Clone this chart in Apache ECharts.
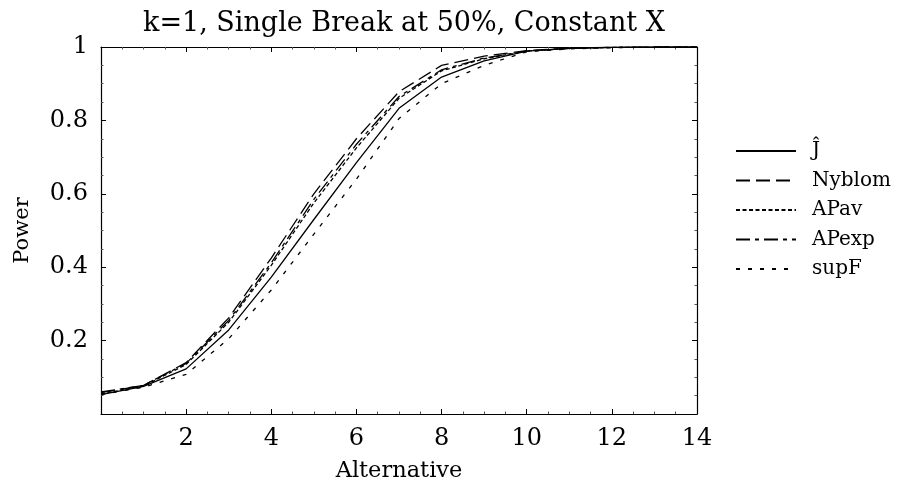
<!DOCTYPE html>
<html>
<head>
<meta charset="utf-8">
<title>Power curves</title>
<script src="https://cdn.jsdelivr.net/npm/echarts@6/dist/echarts.min.js"></script>
<style>
  html, body { margin: 0; padding: 0; background: #fff; }
  #chart { width: 900px; height: 494px; }
</style>
</head>
<body>
<div id="chart"></div>
<script>
// Alternative values (break size) at which power was simulated
const alternatives = [0, 1, 2, 3, 4, 5, 6, 7, 8, 9, 10, 11, 12, 13, 14];

// Rejection frequencies for each test
const powerJ      = [0.053, 0.075, 0.123, 0.229, 0.373, 0.530, 0.685, 0.833, 0.918, 0.962, 0.989, 0.996, 0.999, 1.000, 1.000];
const powerNyblom = [0.058, 0.078, 0.140, 0.262, 0.425, 0.600, 0.750, 0.878, 0.950, 0.975, 0.990, 0.997, 0.999, 1.000, 1.000];
const powerAPav   = [0.055, 0.076, 0.135, 0.250, 0.405, 0.575, 0.725, 0.860, 0.935, 0.968, 0.989, 0.996, 0.999, 1.000, 1.000];
const powerAPexp  = [0.060, 0.078, 0.138, 0.255, 0.412, 0.585, 0.735, 0.865, 0.938, 0.970, 0.989, 0.996, 0.999, 1.000, 1.000];
const powerSupF   = [0.053, 0.073, 0.108, 0.205, 0.338, 0.490, 0.640, 0.805, 0.900, 0.950, 0.987, 0.995, 0.998, 1.000, 1.000];

const seriesNames = ['\u0134', 'Nyblom', 'APav', 'APexp', 'supF'];
const seriesData  = [powerJ, powerNyblom, powerAPav, powerAPexp, powerSupF];
const dashes      = ['solid', [14, 6], [4, 2.5], [14, 5, 4, 5], [4, 8]];

const FONT = '"DejaVu Serif", "Liberation Serif", serif';

const chart = echarts.init(document.getElementById('chart'), null, { renderer: 'canvas' });

const grid = { left: 101, right: 203, top: 47, bottom: 80 };

const tickFmt = v => (Math.abs(v) < 1e-9 ? '' : String(+v.toFixed(1)));

function frameAxis(extra) {
  return Object.assign({
    type: 'value',
    axisLine: { show: true, onZero: false, lineStyle: { color: '#000', width: 1.2 } },
    axisTick: { show: true, inside: true, length: 5, lineStyle: { color: '#000', width: 1 } },
    minorTick: { show: true, splitNumber: 4, length: 2.5, lineStyle: { color: '#555', width: 1 } },
    splitLine: { show: false },
    minorSplitLine: { show: false }
  }, extra);
}

const option = {
  animation: false,
  backgroundColor: '#fff',
  title: {
    text: 'k=1, Single Break at 50%, Constant X',
    left: 399,
    top: 5,
    textAlign: 'center',
    textStyle: { fontFamily: FONT, fontSize: 27, fontWeight: 'normal', color: '#000' }
  },
  legend: {
    orient: 'vertical',
    left: 730,
    top: 136,
    itemWidth: 60,
    itemHeight: 14,
    itemGap: 9.5,
    data: seriesNames,
    itemStyle: { opacity: 0 },
    textStyle: { fontFamily: FONT, fontSize: 20, color: '#000', padding: [0, 0, 0, 11] }
  },
  grid: grid,
  xAxis: [
    frameAxis({
      position: 'bottom', min: 0, max: 14, interval: 2,
      name: 'Alternative', nameLocation: 'middle', nameGap: 46,
      nameTextStyle: { fontFamily: FONT, fontSize: 22.5, color: '#000' },
      axisLabel: { show: true, margin: 13, fontFamily: FONT, fontSize: 24, color: '#000', formatter: tickFmt }
    }),
    frameAxis({ position: 'top', min: 0, max: 14, interval: 2, axisLabel: { show: false } })
  ],
  yAxis: [
    frameAxis({
      position: 'left', min: 0, max: 1, interval: 0.2,
      name: 'Power', nameLocation: 'middle', nameGap: 68, nameRotate: 90,
      nameTextStyle: { fontFamily: FONT, fontSize: 21, color: '#000' },
      axisLabel: { show: true, margin: 13, fontFamily: FONT, fontSize: 24, color: '#000', formatter: tickFmt }
    }),
    frameAxis({ position: 'right', min: 0, max: 1, interval: 0.2, axisLabel: { show: false } })
  ],
  series: seriesNames.map((name, i) => ({
    name: name,
    type: 'line',
    xAxisIndex: 0,
    yAxisIndex: 0,
    data: alternatives.map((x, j) => [x, seriesData[i][j]]),
    showSymbol: false,
    symbol: 'none',
    smooth: false,
    itemStyle: { color: '#000' },
    lineStyle: { color: '#000', width: 1.3, type: dashes[i] },
    emphasis: { disabled: true }
  }))
};

chart.setOption(option);
</script>
</body>
</html>
